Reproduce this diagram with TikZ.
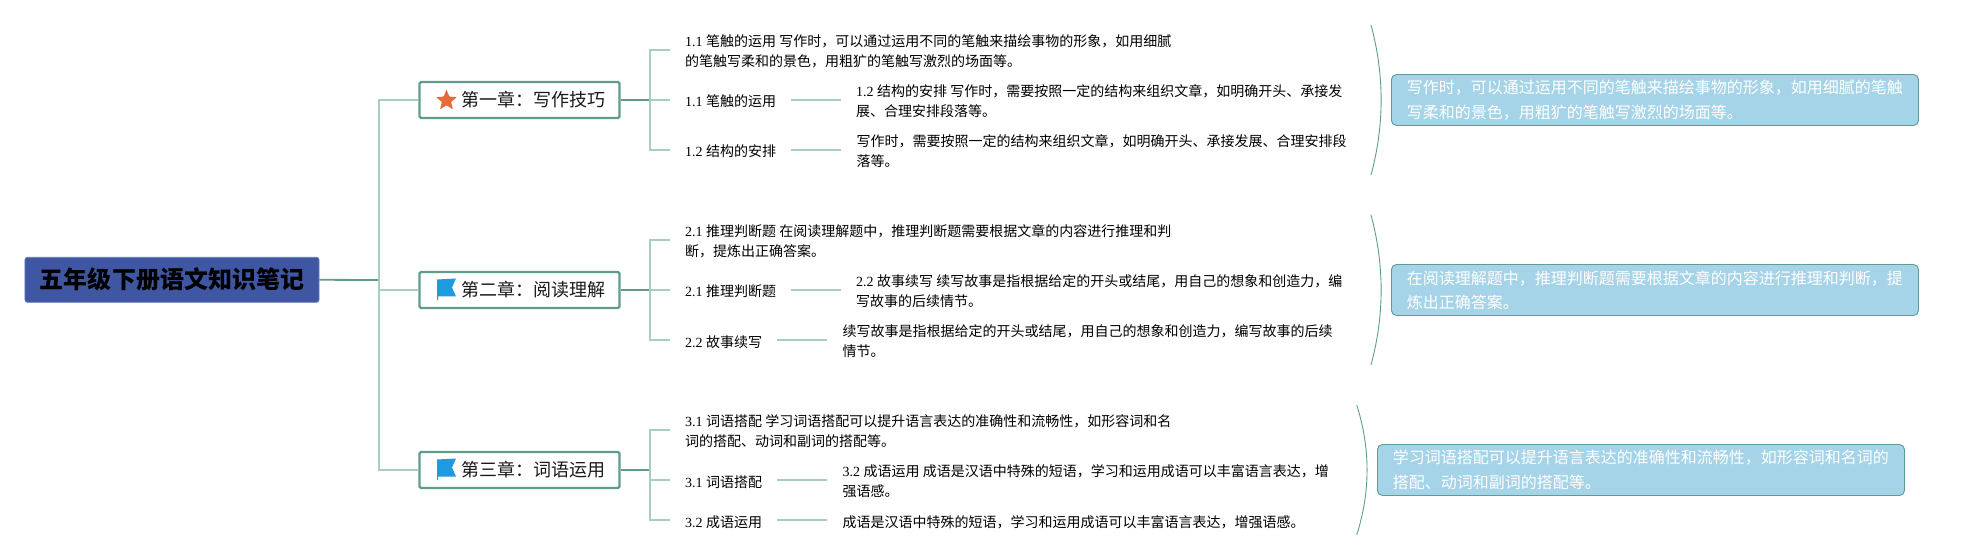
\documentclass[tikz,border=0pt]{standalone}
\usepackage{fontspec}
\setmainfont{Noto Sans CJK SC}
\newfontfamily\lat{Liberation Serif}
\usetikzlibrary{shapes.geometric}
\definecolor{rootblue}{HTML}{3F57A3}
\definecolor{lightline}{HTML}{A8CDC3}
\definecolor{darkline}{HTML}{5F9C8C}
\definecolor{notefill}{HTML}{A5D3E8}
\definecolor{noteedge}{HTML}{5F9C96}
\definecolor{starcol}{HTML}{E8693A}
\definecolor{flagcol}{HTML}{1E9BE0}
\definecolor{inktext}{HTML}{1A1A1A}
\newcommand{\flagicon}[1]{\fill[flagcol,shift={(#1)}] (-9.5,-10.5) -- (9.5,-11.5) -- (5.5,-2.5) -- (9.5,6.5) -- (-8.5,6.5) -- (-8.5,10) -- (-9.5,10) -- cycle;}
\tikzset{
  x=1bp,y=-1bp,
  rootbox/.style={draw=rootblue!80!white,fill=rootblue,rounded corners=2.5bp,line width=.8bp,minimum width=294bp,minimum height=45bp,inner sep=0pt,font=\fontsize{24bp}{28bp}\selectfont\bfseries,text=black},
  chapterbox/.style={draw=darkline,fill=white,rounded corners=1.5bp,line width=2.2bp,minimum width=200bp,minimum height=36bp,inner sep=0pt,font=\fontsize{18bp}{22bp}\selectfont,text=inktext},
  leaf/.style={anchor=west,inner ysep=0pt,inner xsep=15bp,font=\fontsize{14bp}{20.4bp}\selectfont,align=left,text=black},
  label/.style={leaf,text height=14bp,text depth=0pt},
  notebox/.style={draw=noteedge,fill=notefill,rounded corners=5bp,line width=.9bp,anchor=west,minimum width=527bp,minimum height=51bp,inner ysep=0pt,inner xsep=15.5bp,text width=496bp,align=left,font=\fontsize{16bp}{24.3bp}\selectfont,text=white},
  trunk/.style={draw=lightline,line width=1.8bp},
  stub/.style={draw=darkline,line width=1.8bp},
  bracecurve/.style={draw=darkline,line width=.9bp}
}
\newcommand{\chaptertext}[1]{\hspace*{28.4bp}#1}
\newcommand{\strutup}{\rule{0pt}{14.5bp}}
\begin{document}
\begin{tikzpicture}
\useasboundingbox (0,0) rectangle (1963,560);
% root and chapters
\node[rootbox] (root) at (172,279.8) {五年级下册语文知识笔记};
\node[chapterbox] (ch1) at (519.5,100) {\chaptertext{第一章：写作技巧}};
\node[chapterbox] (ch2) at (519.5,290) {\chaptertext{第二章：阅读理解}};
\node[chapterbox] (ch3) at (519.5,470) {\chaptertext{第三章：词语运用}};
\coordinate (tr) at (379,280);
\draw[stub] (root.east) -- (tr);
\draw[trunk] (tr) |- (ch1.west);
\draw[trunk] (tr) |- (ch2.west);
\draw[trunk] (tr) |- (ch3.west);
% icons
\node[star,star points=5,star point ratio=2.3,fill=starcol,minimum size=22bp,inner sep=0pt,rounded corners=.8bp] (ic1) at (446.5,100.5) {};
\flagicon{446.5,290}
\flagicon{446.5,470}
% group 1
\coordinate (b1) at (650,100);
\node[leaf] (t1) at (670,50) {\strutup{\lat 1.1 }笔触的运用 写作时，可以通过运用不同的笔触来描绘事物的形象，如用细腻\\的笔触写柔和的景色，用粗犷的笔触写激烈的场面等。};
\node[label] (l11) at (670,100) {{\lat 1.1 }笔触的运用};
\node[label] (l12) at (670,150) {{\lat 1.2 }结构的安排};
\node[leaf,inner xsep=15bp] (s11) at (841,100) {\strutup{\lat 1.2 }结构的安排 写作时，需要按照一定的结构来组织文章，如明确开头、承接发\\展、合理安排段落等。};
\node[leaf,inner xsep=15.5bp] (s12) at (841,150) {\strutup 写作时，需要按照一定的结构来组织文章，如明确开头、承接发展、合理安排段\\落等。};
\draw[stub] (ch1.east) -- (b1);
\draw[trunk] (b1) |- (t1.west);
\draw[trunk] (b1) -- (l11.west);
\draw[trunk] (b1) |- (l12.west);
\draw[trunk] (l11.east) -- (s11.west);
\draw[trunk] (l12.east) -- (s12.west);
% group 2
\coordinate (b2) at (650,290);
\node[leaf] (t2) at (670,240) {\strutup{\lat 2.1 }推理判断题 在阅读理解题中，推理判断题需要根据文章的内容进行推理和判\\断，提炼出正确答案。};
\node[label] (l21) at (670,290) {{\lat 2.1 }推理判断题};
\node[label] (l22) at (670,340) {{\lat 2.2 }故事续写};
\node[leaf,inner xsep=15bp] (s21) at (841,290) {\strutup{\lat 2.2 }故事续写 续写故事是指根据给定的开头或结尾，用自己的想象和创造力，编\\写故事的后续情节。};
\node[leaf,inner xsep=15.5bp] (s22) at (827,340) {\strutup 续写故事是指根据给定的开头或结尾，用自己的想象和创造力，编写故事的后续\\情节。};
\draw[stub] (ch2.east) -- (b2);
\draw[trunk] (b2) |- (t2.west);
\draw[trunk] (b2) -- (l21.west);
\draw[trunk] (b2) |- (l22.west);
\draw[trunk] (l21.east) -- (s21.west);
\draw[trunk] (l22.east) -- (s22.west);
% group 3
\coordinate (b3) at (650,470);
\coordinate (b3m) at (650,480);
\node[leaf] (t3) at (670,430) {\strutup{\lat 3.1 }词语搭配 学习词语搭配可以提升语言表达的准确性和流畅性，如形容词和名\\词的搭配、动词和副词的搭配等。};
\node[label] (l31) at (670,480) {{\lat 3.1 }词语搭配};
\node[label] (l32) at (670,520) {{\lat 3.2 }成语运用};
\node[leaf,inner xsep=15.5bp] (s31) at (827,480) {\strutup{\lat 3.2 }成语运用 成语是汉语中特殊的短语，学习和运用成语可以丰富语言表达，增\\强语感。};
\node[label,inner xsep=15.5bp] (s32) at (827,520) {成语是汉语中特殊的短语，学习和运用成语可以丰富语言表达，增强语感。};
\draw[stub] (ch3.east) -- (b3);
\draw[trunk] (b3) |- (t3.west);
\draw[trunk] (b3m) -- (l31.west);
\draw[trunk] (b3) |- (l32.west);
\draw[trunk] (l31.east) -- (s31.west);
\draw[trunk] (l32.east) -- (s32.west);
% notes
\node[notebox] (n1) at (1391,100) {写作时，可以通过运用不同的笔触来描绘事物的形象，如用细腻的笔触\\写柔和的景色，用粗犷的笔触写激烈的场面等。};
\node[notebox] (n2) at (1391,290) {在阅读理解题中，推理判断题需要根据文章的内容进行推理和判断，提\\炼出正确答案。};
\node[notebox] (n3) at (1377,470) {学习词语搭配可以提升语言表达的准确性和流畅性，如形容词和名词的\\搭配、动词和副词的搭配等。};
% brace curves
\coordinate (c1a) at (1371,25); \coordinate (c1b) at (1371,175);
\coordinate (c2a) at (1371,215); \coordinate (c2b) at (1371,365);
\coordinate (c3a) at (1356.7,405); \coordinate (c3b) at (1356.7,535);
\draw[bracecurve] (c1a) .. controls (1384.5,75) and (1384.5,125) .. (c1b);
\draw[bracecurve] (c2a) .. controls (1384.5,265) and (1384.5,315) .. (c2b);
\draw[bracecurve] (c3a) .. controls (1370.5,448) and (1370.5,492) .. (c3b);
\end{tikzpicture}
\end{document}
